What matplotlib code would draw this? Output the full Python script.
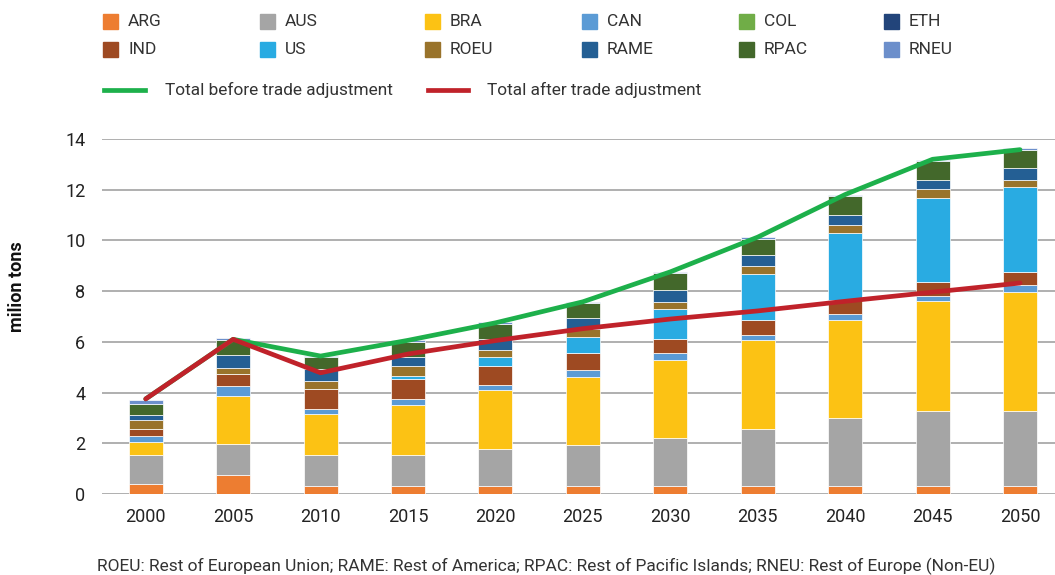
import matplotlib.pyplot as plt
from matplotlib.patches import Rectangle
from matplotlib.lines import Line2D
import numpy as np

plt.rcParams['font.family'] = ['Roboto', 'DejaVu Sans']

# years on the x axis
years = ['2000', '2005', '2010', '2015', '2020', '2025', '2030', '2035', '2040', '2045', '2050']

# stacked series (million tons)
ARG = [0.38, 0.74, 0.31, 0.31, 0.31, 0.31, 0.31, 0.31, 0.31, 0.31, 0.31]
AUS = [1.15, 1.24, 1.22, 1.22, 1.45, 1.61, 1.90, 2.25, 2.69, 2.98, 2.98]
BRA = [0.52, 1.90, 1.63, 1.99, 2.34, 2.69, 3.06, 3.50, 3.85, 4.31, 4.66]
CAN = [0.22, 0.36, 0.21, 0.21, 0.21, 0.27, 0.29, 0.23, 0.23, 0.21, 0.29]
COL = [0, 0, 0, 0, 0, 0, 0, 0, 0, 0, 0]
ETH = [0, 0, 0, 0, 0, 0, 0, 0, 0, 0, 0]
IND = [0.28, 0.50, 0.78, 0.81, 0.73, 0.67, 0.56, 0.56, 0.58, 0.57, 0.52]
US = [0, 0, 0, 0.13, 0.36, 0.65, 1.18, 1.84, 2.63, 3.30, 3.34]
ROEU = [0.37, 0.23, 0.30, 0.38, 0.29, 0.29, 0.28, 0.29, 0.30, 0.34, 0.29]
RAME = [0.21, 0.50, 0.47, 0.35, 0.43, 0.44, 0.45, 0.43, 0.43, 0.37, 0.46]
RPAC = [0.43, 0.59, 0.48, 0.59, 0.59, 0.60, 0.68, 0.66, 0.73, 0.74, 0.71]
RNEU = [0.16, 0.08, 0.04, 0.07, 0.07, 0.05, 0.05, 0.06, 0.06, 0.06, 0.07]

# totals
total_before = [3.75, 6.10, 5.44, 6.06, 6.75, 7.58, 8.76, 10.13, 11.81, 13.20, 13.58]
total_after = [3.75, 6.10, 4.78, 5.52, 6.05, 6.52, 6.90, 7.22, 7.60, 7.96, 8.32]

names = ['ARG', 'AUS', 'BRA', 'CAN', 'COL', 'ETH', 'IND', 'US', 'ROEU', 'RAME', 'RPAC', 'RNEU']
series = [ARG, AUS, BRA, CAN, COL, ETH, IND, US, ROEU, RAME, RPAC, RNEU]
colors = ['#ED7D31', '#A5A5A5', '#FCC214', '#5B9BD5', '#70AD47', '#22447A',
          '#9E4A22', '#29ABE2', '#99732B', '#245F94', '#43682B', '#6C8FCB']

fig = plt.figure(figsize=(10.55, 5.75), dpi=100)
ax = fig.add_axes([102 / 1055, 1 - 494 / 575, 1 - 102 / 1055, 355 / 575])

x = np.arange(len(years))
bottom = np.zeros(len(years))
for vals, c in zip(series, colors):
    ax.bar(x, vals, 0.39, bottom=bottom, color=c, edgecolor='white', linewidth=0.5, zorder=2)
    bottom += np.array(vals)

ax.plot(x, total_before, color='#1DB04B', lw=3.4, zorder=3, solid_capstyle='round')
ax.plot(x, total_after, color='#C0222A', lw=3.4, zorder=4, solid_capstyle='round')

ax.set_xlim(-0.5, 10.4)
ax.set_ylim(0, 14)
ax.set_yticks(range(0, 15, 2))
ax.set_xticks(x)
ax.set_xticklabels(years)
ax.yaxis.grid(True, color='#A9A9A9', lw=1.3, zorder=0)
ax.set_axisbelow(True)
for s in ax.spines.values():
    s.set_visible(False)
ax.tick_params(length=0, labelsize=13, colors='#222222')
ax.tick_params(axis='y', pad=12)
ax.tick_params(axis='x', pad=10)

fig.text(17 / 1055, 1 - 287 / 575, 'milion tons', rotation=90, ha='center', va='center',
         fontsize=13, fontweight='bold', color='#111111')

# legend for the stacked series
col_x = [103, 260, 425, 582, 739, 884]
row_y = [22, 50]
for i, (n, c) in enumerate(zip(names, colors)):
    px = col_x[i % 6]
    py = row_y[i // 6]
    fig.patches.append(Rectangle((px / 1055, 1 - (py + 7) / 575), 15 / 1055, 15 / 575,
                                 transform=fig.transFigure, color=c, figure=fig))
    fig.text((px + 25) / 1055, 1 - py / 575, n, ha='left', va='center', fontsize=12.5, color='#333333')

# legend for the lines
for (x0, x1, tx), c, lab in zip([(104, 145, 165), (428, 468, 487)], ['#1DB04B', '#C0222A'],
                                 ['Total before trade adjustment', 'Total after trade adjustment']):
    fig.lines.append(Line2D([x0 / 1055, x1 / 1055], [1 - 90 / 575] * 2, transform=fig.transFigure,
                            color=c, lw=3.4, figure=fig))
    fig.text(tx / 1055, 1 - 90 / 575, lab, ha='left', va='center', fontsize=12.4, color='#333333')

fig.text(97 / 1055, 1 - 566 / 575,
         'ROEU: Rest of European Union; RAME: Rest of America; RPAC: Rest of Pacific Islands; RNEU: Rest of Europe (Non-EU)',
         ha='left', va='center', fontsize=12.5, color='#333333')

fig.savefig('out.png', dpi=100)
